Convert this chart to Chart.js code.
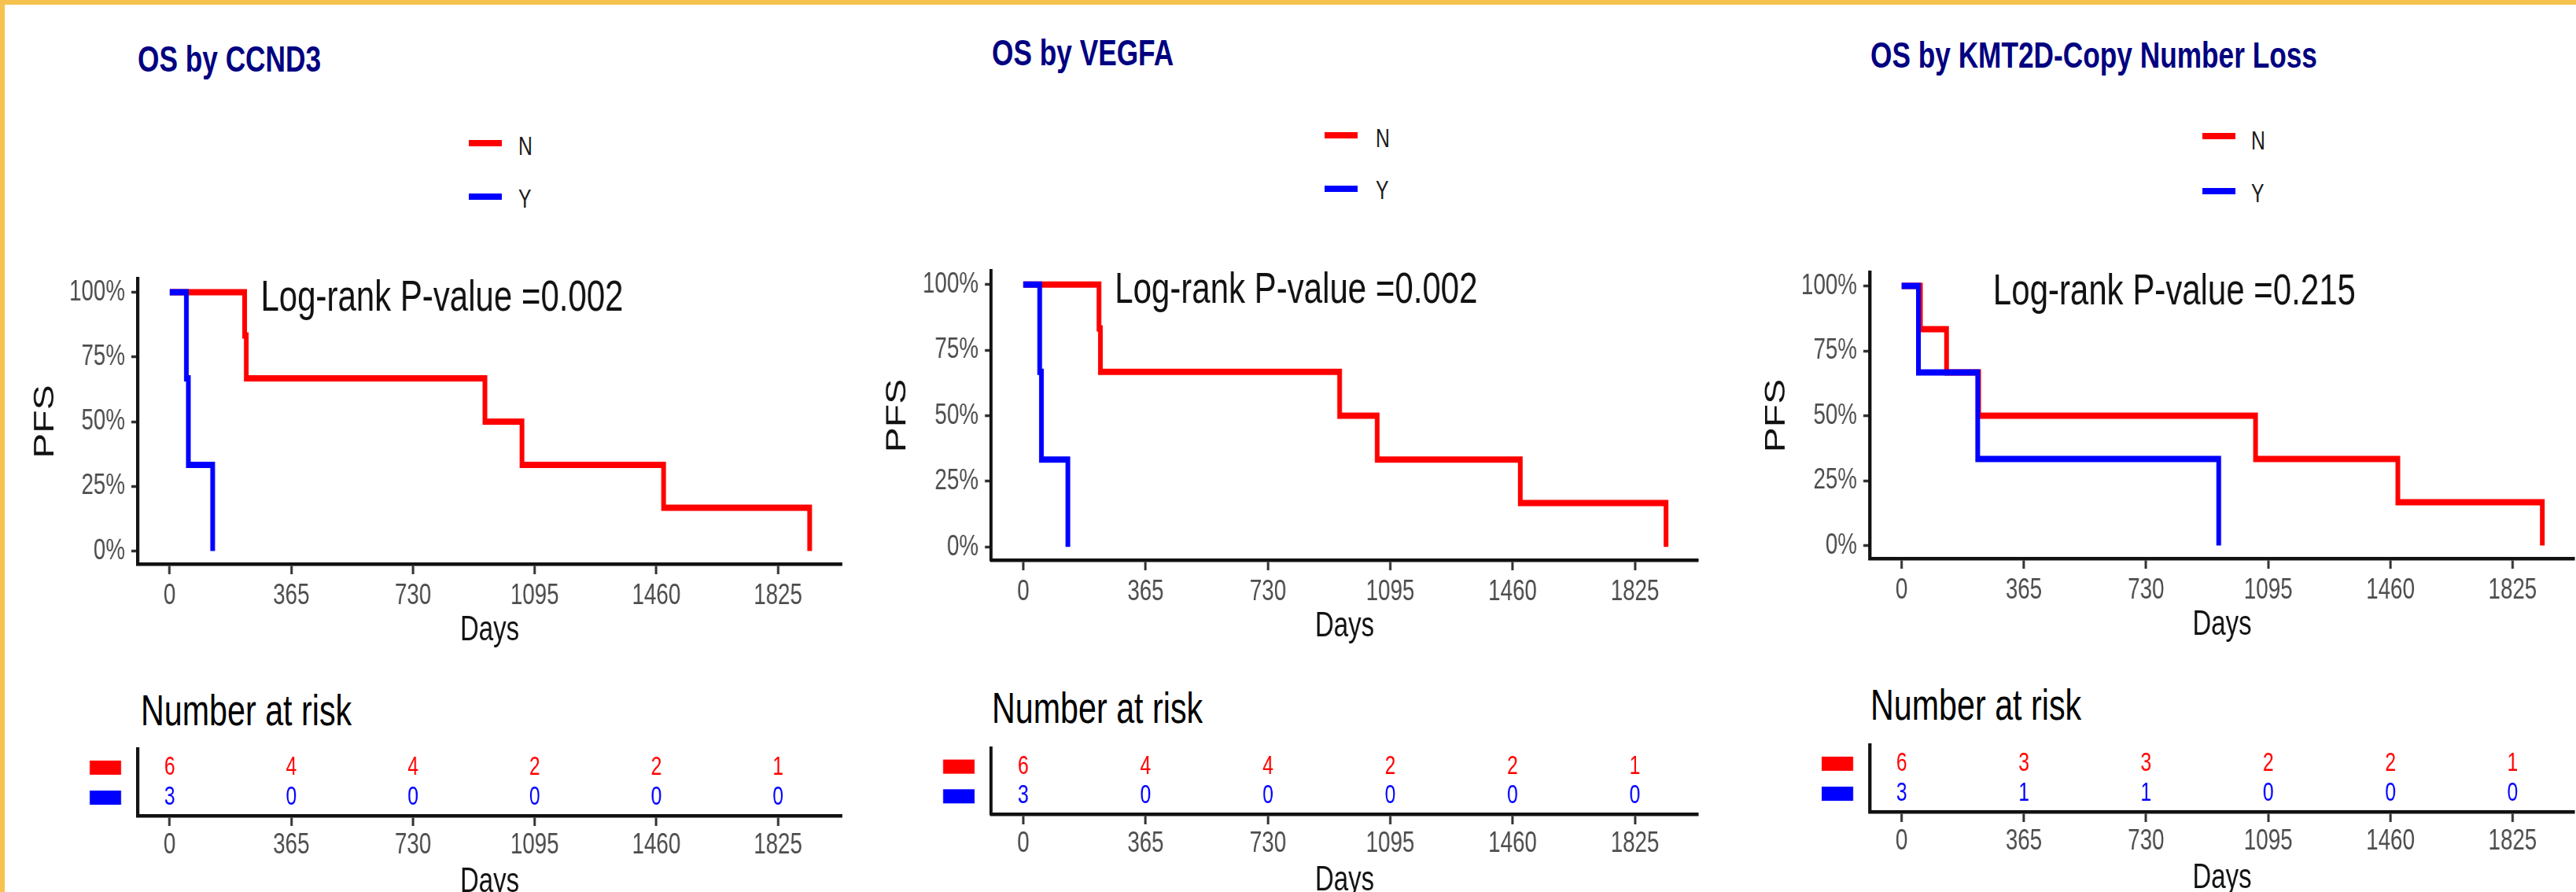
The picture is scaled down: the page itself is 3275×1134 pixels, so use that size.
<!DOCTYPE html>
<html>
<head>
<meta charset="utf-8">
<script src="https://cdn.jsdelivr.net/npm/chart.js@4.4.1/dist/chart.umd.min.js"></script>
<style>
  html, body { margin: 0; padding: 0; }
  body { width: 3275px; height: 1134px; overflow: hidden; background: #fff; position: relative;
         font-family: "Liberation Sans", Arial, sans-serif; }
  .frame-top { position: absolute; left: 0; top: 0; width: 3275px; height: 6px; background: #F6C24F; }
  .frame-left { position: absolute; left: 0; top: 0; width: 6px; height: 1134px; background: #F6C24F; }
  .txt { position: absolute; white-space: nowrap; line-height: 1; transform: scaleX(0.75); transform-origin: 0 0; }
  .title { font-weight: bold; color: #000080; font-size: 47px; }
  .leg { font-size: 33px; color: #1a1a1a; }
  .risk-title { font-size: 55px; color: #000; }
  .legline { position: absolute; width: 42px; height: 8px; }
  canvas { position: absolute; }
</style>
</head>
<body>
<div class="frame-top"></div>
<div class="frame-left"></div>
<script>
// shared axis ticks
const xTicks = [0, 365, 730, 1095, 1460, 1825];
const yTicks = [0, 0.25, 0.5, 0.75, 1];
const riskDays = [0, 365, 730, 1095, 1460, 1825];
const groups = ['N', 'Y'];

// OS by CCND3
const ccnd3TimeN = [0, 225, 230, 946, 1057, 1482, 1920];
const ccnd3SurvN = [1, 0.833, 0.667, 0.5, 0.333, 0.167, 0];
const ccnd3TimeY = [0, 50, 56, 129];
const ccnd3SurvY = [1, 0.667, 0.333, 0];
const ccnd3RiskN = [6, 4, 4, 2, 2, 1];
const ccnd3RiskY = [3, 0, 0, 0, 0, 0];

// OS by VEGFA
const vegfaTimeN = [0, 226, 230, 944, 1056, 1483, 1918];
const vegfaSurvN = [1, 0.833, 0.667, 0.5, 0.333, 0.167, 0];
const vegfaTimeY = [0, 49, 54, 133];
const vegfaSurvY = [1, 0.667, 0.333, 0];
const vegfaRiskN = [6, 4, 4, 2, 2, 1];
const vegfaRiskY = [3, 0, 0, 0, 0, 0];

// OS by KMT2D-Copy Number Loss
const kmt2dTimeN = [0, 56, 134, 230, 1057, 1482, 1914];
const kmt2dSurvN = [1, 0.833, 0.667, 0.5, 0.333, 0.167, 0];
const kmt2dTimeY = [0, 50, 227, 947];
const kmt2dSurvY = [1, 0.667, 0.333, 0];
const kmt2dRiskN = [6, 3, 3, 2, 2, 1];
const kmt2dRiskY = [3, 1, 1, 0, 0, 0];

const titles = ['OS by CCND3', 'OS by VEGFA', 'OS by KMT2D-Copy Number Loss'];
const pValues = ['0.002', '0.002', '0.215'];
const pvalAt = [273, 0.975];

const panels = [
  { timeN: ccnd3TimeN, survN: ccnd3SurvN, timeY: ccnd3TimeY, survY: ccnd3SurvY, riskN: ccnd3RiskN, riskY: ccnd3RiskY },
  { timeN: vegfaTimeN, survN: vegfaSurvN, timeY: vegfaTimeY, survY: vegfaSurvY, riskN: vegfaRiskN, riskY: vegfaRiskY },
  { timeN: kmt2dTimeN, survN: kmt2dSurvN, timeY: kmt2dTimeY, survY: kmt2dSurvY, riskN: kmt2dRiskN, riskY: kmt2dRiskY }
];

// page positions (px) for each panel
const layouts = [
  { left: 14, right: 1085, axis: 175, plotRight: 1070, kmTop: 355, kmBottom: 717, riskTop: 953, riskBottom: 1037,
    pfsX: 58, titleX: 175, titleY: 74.5, legX: 596, legTextX: 659, legY: [182, 250], legTextY: [185, 252],
    riskTitleX: 179, riskTitleY: 903.5 },
  { left: 1095, right: 2170, axis: 1260, plotRight: 2159, kmTop: 345, kmBottom: 712, riskTop: 952, riskBottom: 1035,
    pfsX: 1141, titleX: 1261, titleY: 66, legX: 1684, legTextX: 1749, legY: [172, 240], legTextY: [175, 241.5],
    riskTitleX: 1261, riskTitleY: 900 },
  { left: 2205, right: 3275, axis: 2377, plotRight: 3273, kmTop: 347, kmBottom: 710, riskTop: 948, riskBottom: 1032,
    pfsX: 2259, titleX: 2378, titleY: 69, legX: 2800, legTextX: 2862, legY: [173, 243], legTextY: [178, 245],
    riskTitleX: 2378, riskTitleY: 896.5 }
];

const S = 0.75; // horizontal squeeze of the original figure
const colors = { N: '#ff0000', Y: '#0000ff' };
const FONT = '"Liberation Sans", Arial, sans-serif';
Chart.defaults.font.family = FONT;

function addText(cls, text, x, yCenter, size) {
  const d = document.createElement('div');
  d.className = 'txt ' + cls;
  d.textContent = text;
  d.style.left = x + 'px';
  d.style.top = (yCenter - size / 2) + 'px';
  document.body.appendChild(d);
}

function makeCanvas(L, T, R, B) {
  const c = document.createElement('canvas');
  c.width = Math.round((R - L) / S);
  c.height = B - T;
  c.style.left = L + 'px';
  c.style.top = T + 'px';
  c.style.width = (R - L) + 'px';
  c.style.height = (B - T) + 'px';
  document.body.appendChild(c);
  return c;
}

function xy(times, vals) {
  return times.map((t, i) => ({ x: t, y: vals[i] }));
}

function xAxis(maxT, height, labelOffset) {
  const tickLen = 13, tickSize = 37, titleSize = 44;
  return {
    type: 'linear', min: -0.05 * maxT, max: 1.05 * maxT,
    afterBuildTicks: sc => { sc.ticks = xTicks.map(v => ({ value: v })); },
    afterFit: sc => { sc.height = height; },
    grid: { drawOnChartArea: false, drawTicks: true, tickLength: tickLen, tickWidth: 4, tickColor: '#333' },
    border: { display: true, color: '#111', width: 4.5 },
    ticks: { color: '#4d4d4d', font: { size: tickSize }, maxRotation: 0, autoSkip: false,
             padding: labelOffset - tickLen - tickSize * 0.6,
             callback: v => String(v) },
    title: { display: true, text: 'Days', color: '#111', font: { size: titleSize },
             padding: { top: 0, bottom: height - 85 - titleSize * 0.6 } }
  };
}

function kmChart(p, lay, idx) {
  const L = lay.left, R = lay.right, T = lay.kmTop - 55, B = lay.kmBottom + 125;
  const cv = makeCanvas(L, T, R, B);
  const maxT = Math.max(...p.timeN, ...p.timeY);
  const pfsSize = 48;
  const pval = {
    id: 'pval',
    afterDatasetsDraw(chart) {
      const { ctx, scales: { x, y } } = chart;
      ctx.save();
      ctx.font = '56px ' + FONT;
      ctx.fillStyle = '#111';
      ctx.textAlign = 'left';
      ctx.textBaseline = 'middle';
      ctx.fillText('Log-rank P-value =' + pValues[idx], x.getPixelForValue(pvalAt[0]), y.getPixelForValue(pvalAt[1]));
      ctx.restore();
    }
  };
  new Chart(cv, {
    type: 'line',
    data: {
      datasets: [
        { label: groups[0], data: xy(p.timeN, p.survN), borderColor: colors.N, order: 1 },
        { label: groups[1], data: xy(p.timeY, p.survY), borderColor: colors.Y, order: 0 }
      ]
    },
    options: {
      responsive: false, animation: false, events: [], devicePixelRatio: 1,
      layout: { padding: { left: 0, top: lay.kmTop - T, right: (R - lay.plotRight) / S, bottom: 0 } },
      plugins: { legend: { display: false }, tooltip: { enabled: false } },
      elements: { point: { radius: 0 }, line: { borderWidth: 8, stepped: 'before', fill: false } },
      scales: {
        x: xAxis(maxT, B - lay.kmBottom, 41),
        y: {
          min: -0.05, max: 1.05,
          afterBuildTicks: sc => { sc.ticks = yTicks.map(v => ({ value: v })); },
          afterFit: sc => { sc.width = (lay.axis - L) / S; },
          grid: { drawOnChartArea: false, drawTicks: true, tickLength: 8 / S, tickWidth: 3.5, tickColor: '#333' },
          border: { display: true, color: '#111', width: 5.5 },
          ticks: { color: '#4d4d4d', font: { size: 37 }, padding: 8 / S,
                   callback: v => Math.round(v * 100) + '%' },
          title: { display: true, text: 'PFS', color: '#111', font: { size: pfsSize },
                   padding: { top: (lay.pfsX - L) / S - pfsSize * 0.6, bottom: 0 } }
        }
      }
    },
    plugins: [pval]
  });
}

function riskChart(p, lay) {
  const L = lay.left, R = lay.right, T = lay.riskTop - 25, B = lay.riskBottom + 128;
  const cv = makeCanvas(L, T, R, B);
  const maxT = Math.max(...p.timeN, ...p.timeY);
  const rows = { N: 2, Y: 1 };
  const numbers = {
    id: 'riskNumbers',
    afterDatasetsDraw(chart) {
      const { ctx, chartArea, scales: { x, y } } = chart;
      ctx.save();
      ctx.font = '33px ' + FONT;
      ctx.textAlign = 'center';
      ctx.textBaseline = 'middle';
      chart.data.datasets.forEach(ds => {
        ctx.fillStyle = ds.borderColor;
        ds.data.forEach(pt => {
          ctx.fillText(String(pt.n), x.getPixelForValue(pt.x), y.getPixelForValue(pt.y));
        });
        const py = y.getPixelForValue(ds.data[0].y);
        ctx.fillRect(chartArea.left - 61 / S, py - 9, 40 / S, 18);
      });
      ctx.restore();
    }
  };
  new Chart(cv, {
    type: 'scatter',
    data: {
      datasets: [
        { label: groups[0], borderColor: colors.N, data: riskDays.map((d, i) => ({ x: d, y: rows.N, n: p.riskN[i] })) },
        { label: groups[1], borderColor: colors.Y, data: riskDays.map((d, i) => ({ x: d, y: rows.Y, n: p.riskY[i] })) }
      ]
    },
    options: {
      responsive: false, animation: false, events: [], devicePixelRatio: 1,
      layout: { padding: { left: 0, top: lay.riskTop - T, right: (R - lay.plotRight) / S, bottom: 0 } },
      plugins: { legend: { display: false }, tooltip: { enabled: false } },
      elements: { point: { radius: 0 } },
      scales: {
        x: xAxis(maxT, B - lay.riskBottom, 38),
        y: {
          min: 0.4, max: 2.6,
          afterFit: sc => { sc.width = (lay.axis - L) / S; },
          grid: { display: false },
          border: { display: true, color: '#111', width: 5.5 },
          ticks: { display: false }
        }
      }
    },
    plugins: [numbers]
  });
}

panels.forEach((p, i) => {
  const lay = layouts[i];
  addText('title', titles[i], lay.titleX, lay.titleY, 47);
  groups.forEach((g, k) => {
    const line = document.createElement('div');
    line.className = 'legline';
    line.style.left = lay.legX + 'px';
    line.style.top = (lay.legY[k] - 4) + 'px';
    line.style.background = colors[g];
    document.body.appendChild(line);
    addText('leg', g, lay.legTextX, lay.legTextY[k], 33);
  });
  addText('risk-title', 'Number at risk', lay.riskTitleX, lay.riskTitleY, 55);
  kmChart(p, lay, i);
  riskChart(p, lay);
});
</script>
</body>
</html>
